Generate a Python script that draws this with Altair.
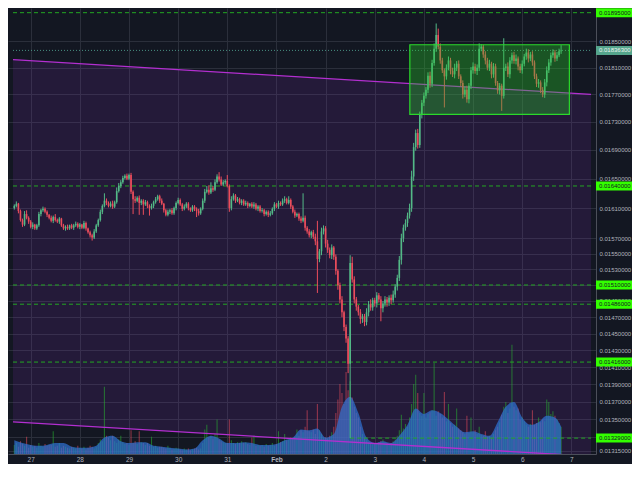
import altair as alt
import pandas as pd

# ---------------- data ----------------
start_day = 26 + 16 / 24          # first hourly candle: Jan 26 16:00 (x unit = day of January)
first_open = 0.01610

closes = [
    0.01613, 0.01616, 0.01606, 0.01594, 0.01588, 0.01602, 0.01597, 0.01592,
    # Jan 27
    0.01585, 0.01588, 0.01583, 0.01587, 0.01602, 0.01607, 0.01609, 0.01605, 0.01601, 0.01597, 0.01593, 0.01598,
    0.01594, 0.01592, 0.01596, 0.01587, 0.01583, 0.01585, 0.01583, 0.01587, 0.01584, 0.01587, 0.01589, 0.01585,
    # Jan 28
    0.01588, 0.01584, 0.01590, 0.01583, 0.01578, 0.01574, 0.01571, 0.01579, 0.01587, 0.01594, 0.01605, 0.01613,
    0.01620, 0.01617, 0.01613, 0.01616, 0.01612, 0.01618, 0.01633, 0.01640, 0.01645, 0.01651, 0.01654, 0.01650,
    # Jan 29
    0.01655, 0.01632, 0.01622, 0.01620, 0.01624, 0.01617, 0.01620, 0.01615, 0.01618, 0.01613, 0.01610, 0.01613,
    0.01618, 0.01622, 0.01626, 0.01620, 0.01616, 0.01607, 0.01601, 0.01605, 0.01607, 0.01603, 0.01610, 0.01617,
    # Jan 30
    0.01621, 0.01615, 0.01609, 0.01612, 0.01616, 0.01610, 0.01607, 0.01612, 0.01609, 0.01606, 0.01603, 0.01609,
    0.01620, 0.01632, 0.01635, 0.01631, 0.01637, 0.01635, 0.01645, 0.01653, 0.01649, 0.01642, 0.01645, 0.01647,
    # Jan 31
    0.01640, 0.01610, 0.01622, 0.01627, 0.01620, 0.01622, 0.01617, 0.01620, 0.01615, 0.01617, 0.01613, 0.01616,
    0.01612, 0.01615, 0.01609, 0.01612, 0.01606, 0.01607, 0.01602, 0.01605, 0.01601, 0.01603, 0.01609, 0.01615,
    # Feb 1
    0.01612, 0.01617, 0.01615, 0.01620, 0.01622, 0.01617, 0.01621, 0.01612, 0.01605, 0.01600, 0.01602, 0.01596,
    0.01593, 0.01597, 0.01584, 0.01579, 0.01574, 0.01578, 0.01572, 0.01566, 0.01543, 0.01553, 0.01579, 0.01583,
    # Feb 2
    0.01563, 0.01555, 0.01548, 0.01558, 0.01546, 0.01528, 0.01510, 0.01492, 0.01476, 0.01458, 0.01444, 0.01414,
    0.01538, 0.01517, 0.01492, 0.01483, 0.01476, 0.01468, 0.01471, 0.01464, 0.01476, 0.01486, 0.01482, 0.01491,
    # Feb 3
    0.01487, 0.01497, 0.01492, 0.01481, 0.01487, 0.01492, 0.01488, 0.01494, 0.01491, 0.01498, 0.01508, 0.01519,
    0.01542, 0.01570, 0.01584, 0.01590, 0.01600, 0.01610, 0.01653, 0.01694, 0.01714, 0.01697, 0.01740, 0.01758,
    # Feb 4
    0.01768, 0.01777, 0.01798, 0.01786, 0.01817, 0.01839, 0.01860, 0.01842, 0.01821, 0.01806, 0.01797, 0.01810,
    0.01821, 0.01805, 0.01800, 0.01810, 0.01816, 0.01797, 0.01787, 0.01770, 0.01777, 0.01763, 0.01783, 0.01806,
    # Feb 5
    0.01812, 0.01805, 0.01810, 0.01839, 0.01842, 0.01830, 0.01821, 0.01810, 0.01816, 0.01800, 0.01812, 0.01787,
    0.01776, 0.01783, 0.01768, 0.01810, 0.01812, 0.01800, 0.01821, 0.01829, 0.01820, 0.01824, 0.01812, 0.01806,
    # Feb 6
    0.01816, 0.01827, 0.01833, 0.01824, 0.01830, 0.01818, 0.01797, 0.01786, 0.01788, 0.01777, 0.01770, 0.01788,
    0.01806, 0.01818, 0.01829, 0.01833, 0.01824, 0.01829, 0.01835, 0.018363,
]

# wick lengths above / below the candle body, in units of 0.00001
upper_wick = [
    2, 3, 1, 2, 2, 4, 5, 2,
    2, 3, 1, 2, 3, 2, 3, 2, 2, 1, 3, 2, 4, 2, 2, 1, 2, 2, 3, 1, 2, 2, 3, 2,
    2, 1, 3, 2, 1, 2, 2, 3, 2, 2, 3, 2, 10, 3, 2, 3, 4, 2, 5, 4, 3, 3, 2, 3,
    2, 3, 2, 4, 2, 3, 2, 2, 3, 2, 2, 3, 2, 3, 2, 2, 3, 1, 2, 3, 2, 3, 2, 2,
    3, 2, 2, 3, 2, 2, 1, 2, 2, 2, 3, 2, 3, 4, 5, 6, 8, 3, 4, 3, 6, 4, 3, 2,
    8, 2, 4, 3, 2, 3, 2, 2, 2, 3, 2, 1, 2, 3, 2, 2, 2, 3, 2, 2, 2, 3, 2, 3,
    2, 3, 2, 3, 4, 2, 5, 2, 2, 3, 2, 2, 3, 33, 3, 2, 3, 2, 3, 4, 27, 3, 5, 4,
    3, 5, 3, 4, 2, 3, 2, 3, 4, 2, 3, 3, 10, 8, 4, 3, 2, 4, 3, 3, 5, 4, 6, 3,
    3, 4, 3, 4, 3, 4, 3, 3, 4, 5, 3, 4, 5, 6, 4, 5, 4, 6, 8, 6, 5, 6, 5, 4,
    5, 4, 5, 6, 5, 8, 18, 10, 5, 4, 3, 5, 6, 4, 5, 6, 4, 5, 3, 4, 5, 6, 4, 5,
    6, 4, 5, 8, 4, 3, 5, 4, 6, 3, 5, 4, 3, 4, 3, 45, 4, 6, 5, 4, 5, 6, 3, 4,
    5, 4, 6, 5, 4, 5, 3, 4, 5, 3, 4, 5, 6, 5, 4, 5, 4, 5, 4, 8,
]
lower_wick = [
    2, 2, 3, 2, 3, 2, 2, 3,
    2, 3, 2, 2, 2, 3, 2, 2, 3, 2, 2, 3, 2, 2, 3, 2, 2, 3, 2, 2, 2, 3, 2, 2,
    3, 2, 2, 3, 2, 3, 4, 2, 2, 2, 2, 3, 2, 3, 2, 2, 3, 2, 2, 2, 3, 2, 2, 2,
    2, 3, 20, 3, 2, 16, 3, 14, 2, 3, 10, 2, 3, 2, 2, 3, 2, 3, 2, 2, 3, 2, 2, 3,
    2, 2, 3, 2, 2, 3, 2, 2, 3, 8, 3, 2, 2, 3, 2, 3, 2, 3, 2, 2, 3, 2, 2, 3,
    2, 5, 3, 2, 3, 2, 2, 3, 2, 2, 3, 2, 2, 3, 2, 3, 2, 2, 3, 2, 3, 2, 2, 3,
    2, 3, 2, 2, 3, 2, 2, 3, 2, 3, 2, 3, 3, 2, 4, 3, 3, 4, 3, 5, 43, 4, 5, 4,
    5, 4, 4, 5, 4, 5, 6, 5, 6, 5, 5, 11, 85, 4, 5, 5, 4, 6, 5, 5, 4, 5, 4, 4,
    4, 5, 4, 16, 5, 4, 5, 4, 5, 3, 4, 5, 4, 6, 5, 4, 5, 4, 5, 6, 5, 5, 4, 5,
    5, 4, 5, 6, 5, 4, 5, 4, 5, 4, 46, 5, 4, 5, 4, 6, 5, 4, 5, 6, 4, 5, 6, 5,
    5, 4, 6, 5, 4, 5, 6, 4, 5, 6, 5, 4, 5, 6, 22, 4, 5, 4, 6, 5, 4, 5, 6, 4,
    5, 4, 5, 6, 4, 5, 4, 5, 6, 5, 4, 5, 6, 4, 5, 4, 5, 4, 3, 4,
]

volumes = [
    10, 12, 8, 14, 11, 9, 19, 7,
    10, 8, 9, 7, 12, 9, 8, 11,
    9, 10, 10, 25, 8, 9, 12, 7,
    9, 8, 7, 6, 8, 7, 6, 9,
    7, 6, 8, 5, 7, 9, 8, 6,
    8, 12, 16, 14, 74, 20, 18, 15,
    20, 14, 12, 16, 20, 13, 11, 12,
    10, 26, 12, 14, 11, 25, 13, 12,
    10, 12, 9, 19, 8, 9, 7, 8,
    8, 7, 6, 9, 7, 5, 6, 7,
    6, 5, 4, 6, 5, 6, 4, 5,
    6, 7, 5, 6, 12, 27, 32, 18,
    20, 17, 22, 38, 16, 14, 13, 12,
    12, 38, 15, 12, 11, 13, 12, 14,
    12, 13, 11, 10, 18, 20, 9, 10,
    9, 10, 8, 11, 9, 10, 12, 9,
    11, 25, 13, 14, 22, 15, 16, 18,
    17, 19, 27, 20, 26, 24, 30, 48,
    25, 24, 27, 22, 55, 26, 22, 18,
    18, 17, 20, 24, 30, 45, 60, 77,
    67, 55, 90, 70, 80, 62, 52, 45,
    40, 30, 22, 18, 15, 13, 12, 11,
    12, 11, 13, 14, 16, 13, 12, 11,
    12, 14, 16, 20, 26, 43, 28, 33,
    30, 40, 55, 77, 87, 67, 45, 42,
    67, 40, 44, 46, 48, 100, 42, 47,
    44, 40, 68, 36, 55, 34, 30, 32,
    50, 28, 26, 24, 22, 42, 23, 40,
    24, 26, 22, 30, 21, 20, 25, 19,
    20, 18, 22, 26, 30, 35, 43, 52,
    57, 45, 50, 120, 52, 48, 50, 38,
    40, 36, 32, 30, 33, 48, 32, 34,
    40, 35, 38, 36, 60, 57, 44, 47,
    42, 38, 34, 30,
]

vol_avg_index = list(range(0, 265, 4)) + [267]
vol_avg = [
    15, 12, 10, 9, 10, 12, 12, 8, 7, 7,
    9, 18, 20, 14, 12, 13, 13, 9, 8, 7,
    6, 5, 6, 15, 20, 17, 12, 12, 13, 12,
    10, 10, 11, 15, 18, 27, 26, 28, 18, 22,
    52, 63, 45, 18, 12, 14, 12, 20, 32, 50,
    44, 48, 45, 38, 30, 24, 25, 22, 20, 35,
    52, 57, 40, 32, 35, 42, 40, 30,
]

x_domain = [26.64, 38.40]
y_domain = [0.013115, 0.019024]
vol_domain = [0, 490]

channel_t = [26.64, 38.40]
channel_top = [0.018221, 0.017701]
channel_bottom = [0.01347, 0.01309]

levels = [0.01895, 0.01640, 0.01510, 0.01486, 0.01416, 0.01329]
level_start = [26.64, 26.64, 26.64, 26.64, 26.64, 33.5]
current_price = 0.018363

box_t = [34.714, 37.96]
box_p = [0.01741, 0.01845]

price_ticks = [0.0185, 0.0181, 0.0177, 0.0173, 0.0169, 0.0165, 0.0161, 0.0157, 0.0155, 0.0153,
               0.0151, 0.0149, 0.0147, 0.0145, 0.0143, 0.0141, 0.0139, 0.0137, 0.0135, 0.0133, 0.01315]
day_ticks = list(range(27, 39))

# ---------------- tables ----------------
n = len(closes)
t = [start_day + i / 24 for i in range(n)]
opens = [first_open] + closes[:-1]
highs = [max(o, c) + u * 1e-5 for o, c, u in zip(opens, closes, upper_wick)]
lows = [min(o, c) - w * 1e-5 for o, c, w in zip(opens, closes, lower_wick)]
candles = pd.DataFrame({"t": t, "open": opens, "close": closes, "high": highs, "low": lows, "vol": volumes})
vol_area = pd.DataFrame({"t": [t[i] for i in vol_avg_index], "v": vol_avg})

channel = pd.DataFrame({"t": channel_t, "top": channel_top, "bot": channel_bottom})
trend = pd.DataFrame({"t": channel_t + channel_t, "p": channel_top + channel_bottom,
                      "name": ["upper", "upper", "lower", "lower"]})
level_df = pd.DataFrame({"start": level_start, "end": [x_domain[1]] * len(levels), "p": levels,
                         "label": [f"{p:.8f}" for p in levels]})
cur_df = pd.DataFrame({"start": [x_domain[0]], "end": [x_domain[1]], "p": [current_price],
                       "label": [f"{current_price:.8f}"]})
box_df = pd.DataFrame({"t1": [box_t[0]], "t2": [box_t[1]], "p1": [box_p[0]], "p2": [box_p[1]]})

# ---------------- styling ----------------
BG = "#131722"
GRID = "#2b2f3b"
LABEL = "#b2b5be"
FONT = "Liberation Sans"
UP, DOWN = "#53b987", "#eb4d5c"
PLOT_W, PLOT_H = 588, 446
TAG_W = 36

xs = alt.Scale(domain=x_domain, nice=False, zero=False)
ys = alt.Scale(type="log", domain=y_domain, nice=False, zero=False)
vs = alt.Scale(domain=vol_domain, nice=False, zero=True)

xax = alt.Axis(values=day_ticks, grid=True, gridColor=GRID, ticks=False, domainColor="#4c4f5a",
               labelColor=LABEL, labelFont=FONT, labelFontSize=6.5, labelPadding=2,
               labelFlush=False, labelOverlap=False,
               labelFontWeight={"condition": {"test": "datum.value == 32", "value": "bold"}, "value": "normal"},
               labelExpr="datum.value == 32 ? 'Feb' : (datum.value > 31 ? toString(datum.value - 31) : toString(datum.value))")
yax = alt.Axis(orient="right", values=price_ticks, format=".8f", grid=True, gridColor=GRID, ticks=False,
               domainColor="#4c4f5a", labelColor=LABEL, labelFont=FONT, labelFontSize=6, labelPadding=3,
               labelFlush=False, labelOverlap=False)


def X(f):
    return alt.X(f"{f}:Q", scale=xs, axis=xax, title=None)


def Y(f):
    return alt.Y(f"{f}:Q", scale=ys, axis=yax, title=None)


up_cond = "datum.close >= datum.open"

# purple channel between the two trend lines (bottom-most)
ch = alt.Chart(channel).mark_area(color="#8c32c8", opacity=0.14, clip=True).encode(
    x=X("t"), y=alt.Y("top:Q", scale=ys, axis=None, title=None), y2=alt.Y2("bot"))

# volume (own scale): bars under a translucent blue area
vol_layer = alt.layer(
    alt.Chart(candles).mark_bar(size=1.1, opacity=0.55).encode(
        x=X("t"), y=alt.Y("vol:Q", scale=vs, axis=None, title=None),
        color=alt.condition(up_cond, alt.value("#28b432"), alt.value(DOWN))),
    alt.Chart(vol_area).mark_area(color="#2f74d6", opacity=0.7, interpolate="monotone").encode(
        x=X("t"), y=alt.Y("v:Q", scale=vs, axis=None, title=None)),
)

trend_lines = alt.Chart(trend).mark_line(color="#b32fd0", strokeWidth=1.3, clip=True).encode(
    x=X("t"), y=Y("p"), detail="name:N")
level_lines = alt.Chart(level_df).mark_rule(color="#23a623", strokeWidth=1, strokeDash=[4, 3]).encode(
    x=X("start"), x2=alt.X2("end"), y=Y("p"))
cur_line = alt.Chart(cur_df).mark_rule(color="#4e9c8c", strokeWidth=1, strokeDash=[1, 2], opacity=0.9).encode(
    x=X("start"), x2=alt.X2("end"), y=Y("p"))
wicks = alt.Chart(candles).mark_rule(strokeWidth=1).encode(
    x=X("t"), y=Y("low"), y2=alt.Y2("high"),
    color=alt.condition(up_cond, alt.value(UP), alt.value(DOWN)))
bodies = alt.Chart(candles).mark_bar(size=1.6).encode(
    x=X("t"), y=Y("open"), y2=alt.Y2("close"),
    color=alt.condition(up_cond, alt.value(UP), alt.value(DOWN)))
box = alt.Chart(box_df).mark_rect(fill="#28c828", fillOpacity=0.35, stroke="#2bd92b", strokeWidth=1.2).encode(
    x=X("t1"), x2=alt.X2("t2"), y=Y("p1"), y2=alt.Y2("p2"))

tag_shape = "M -1 -0.25 L 1 -0.25 L 1 0.25 L -1 0.25 Z"
tag_x = PLOT_W + TAG_W / 2
text_x = PLOT_W + 3
level_tags = alt.Chart(level_df).mark_point(shape=tag_shape, size=TAG_W * TAG_W, filled=True, opacity=1,
                                            color="#33ff00", strokeWidth=0).encode(
    x=alt.value(tag_x), y=Y("p"))
level_text = alt.Chart(level_df).mark_text(align="left", baseline="middle", font=FONT, fontSize=6,
                                           color=BG).encode(
    x=alt.value(text_x), y=Y("p"), text="label:N")
cur_tag = alt.Chart(cur_df).mark_point(shape=tag_shape, size=TAG_W * TAG_W, filled=True, opacity=1,
                                       color="#55a58c", strokeWidth=0).encode(
    x=alt.value(tag_x), y=Y("p"))
cur_text = alt.Chart(cur_df).mark_text(align="left", baseline="middle", font=FONT, fontSize=6,
                                       color="#eef4f1").encode(
    x=alt.value(text_x), y=Y("p"), text="label:N")

price_layer = alt.layer(level_lines, cur_line, trend_lines, wicks, bodies, box,
                        level_tags, level_text, cur_tag, cur_text)

chart = alt.layer(ch, vol_layer, price_layer).resolve_scale(y="independent").properties(
    width=PLOT_W, height=PLOT_H,
    padding={"left": 0, "top": 0, "right": TAG_W, "bottom": 10},
    autosize=alt.AutoSizeParams(type="none"),
    background=BG,
).configure_view(strokeWidth=0)

chart.save("out.html", embed_options={"renderer": "svg", "actions": False})
